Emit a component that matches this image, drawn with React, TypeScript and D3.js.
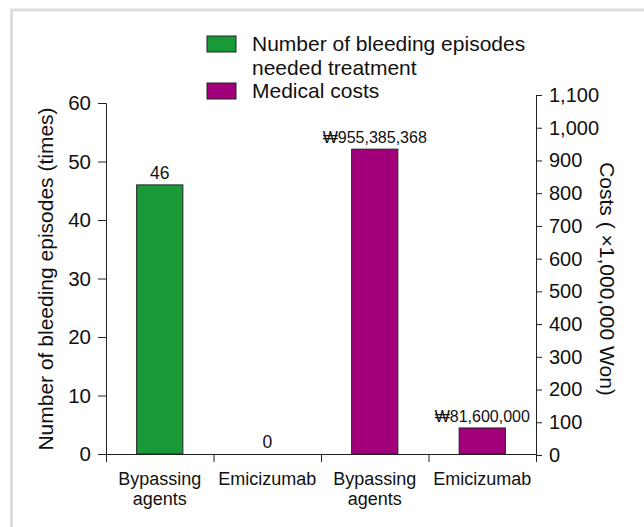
import React, { useEffect, useRef } from 'react';
import * as d3 from 'd3';

// values
const categories = ['Bypassing agents', 'Emicizumab', 'Bypassing agents', 'Emicizumab'];
const bleedingEpisodes = [46, 0]; // times
const medicalCosts = [955.385368, 81.6]; // x 1,000,000 Won
const bleedingLabels = ['46', '0'];
const costLabels = ['\u20A9955,385,368', '\u20A981,600,000'];
const leftTicks = [0, 10, 20, 30, 40, 50, 60];
const rightTicks = [0, 100, 200, 300, 400, 500, 600, 700, 800, 900, 1000, 1100];
const legendItems = [
  { lines: ['Number of bleeding episodes', 'needed treatment'], color: '#1a9a37' },
  { lines: ['Medical costs'], color: '#a2007b' },
];

const FONT = '"Liberation Sans", Arial, sans-serif';

const App = () => {
  const chartRef = useRef<SVGSVGElement>(null);

  useEffect(() => {
    drawChart();
  }, []);

  const drawChart = () => {
    const svg = d3.select(chartRef.current);
    svg.selectAll('*').remove();

    const left = 106;
    const right = 536;
    const base = 454;

    // frame (top + left only)
    svg.append('path')
      .attr('d', 'M11.5,527V10H644')
      .attr('fill', 'none')
      .attr('stroke', '#dcdcdc')
      .attr('stroke-width', 3);

    const x = d3.scaleBand<number>()
      .domain(categories.map((_, i) => i))
      .range([left, right])
      .paddingInner(0.57)
      .paddingOuter(0.285);

    const yLeft = d3.scaleLinear().domain([0, 60]).range([base, 103]);
    // cost bars sit on the same pixel span as the left axis
    const yCost = d3.scaleLinear().domain([0, 1100]).range([base, 103]);
    const yRightAxis = d3.scaleLinear().domain([0, 1100]).range([455, 95]);

    const chart = svg.append('g');

    // bars
    const bars = [
      ...bleedingEpisodes.map((v, i) => ({ idx: i, y: yLeft(v), color: legendItems[0].color, label: bleedingLabels[i], value: v })),
      ...medicalCosts.map((v, i) => ({ idx: i + 2, y: yCost(v), color: legendItems[1].color, label: costLabels[i], value: v })),
    ];

    chart.selectAll('.bar')
      .data(bars.filter(d => d.value > 0))
      .enter()
      .append('rect')
      .attr('class', 'bar')
      .attr('x', d => x(d.idx)!)
      .attr('y', d => d.y)
      .attr('width', x.bandwidth())
      .attr('height', d => base - d.y)
      .attr('fill', d => d.color)
      .attr('stroke', '#222')
      .attr('stroke-width', 1);

    chart.selectAll('.bar-label')
      .data(bars)
      .enter()
      .append('text')
      .attr('class', 'bar-label')
      .attr('x', d => x(d.idx)! + x.bandwidth() / 2)
      .attr('y', d => d.y - 6)
      .attr('text-anchor', 'middle')
      .attr('font-family', FONT)
      .attr('font-size', d => (d.idx < 2 ? 17.5 : 16))
      .attr('fill', '#111')
      .text(d => d.label);

    // x axis with ticks at band boundaries
    const xEdges = d3.scaleLinear().domain([0, categories.length]).range([left, right]);
    chart.append('g')
      .attr('transform', `translate(0,${base})`)
      .call(d3.axisBottom(xEdges).tickValues(d3.range(categories.length + 1)).tickFormat(() => '').tickSize(8))
      .call(g => g.selectAll('path,line').attr('stroke', '#222'));

    chart.selectAll('.cat')
      .data(categories)
      .enter()
      .append('text')
      .attr('class', 'cat')
      .attr('text-anchor', 'middle')
      .attr('font-family', FONT)
      .attr('font-size', 18)
      .attr('fill', '#111')
      .each(function (d, i) {
        const words = d.split(' ');
        const t = d3.select(this);
        words.forEach((w, j) => {
          t.append('tspan')
            .attr('x', x(i)! + x.bandwidth() / 2)
            .attr('y', 485 + j * 20)
            .text(w);
        });
      });

    // left axis
    chart.append('g')
      .attr('transform', `translate(${left},0)`)
      .call(d3.axisLeft(yLeft).tickValues(leftTicks).tickSize(8).tickPadding(7))
      .call(g => g.selectAll('path,line').attr('stroke', '#222'))
      .call(g => g.selectAll('text').attr('font-family', FONT).attr('font-size', 20.5).attr('fill', '#111'));

    // right axis
    chart.append('g')
      .attr('transform', `translate(${right},0)`)
      .call(d3.axisRight(yRightAxis).tickValues(rightTicks).tickFormat(d3.format(',')).tickSize(6).tickPadding(7))
      .call(g => g.selectAll('path,line').attr('stroke', '#222'))
      .call(g => g.selectAll('text').attr('font-family', FONT).attr('font-size', 20).attr('fill', '#111'));

    // axis titles
    svg.append('text')
      .attr('transform', 'translate(53,279) rotate(-90)')
      .attr('text-anchor', 'middle')
      .attr('font-family', FONT)
      .attr('font-size', 21)
      .attr('fill', '#111')
      .text('Number of bleeding episodes (times)');

    svg.append('text')
      .attr('transform', 'translate(600,279) rotate(90)')
      .attr('text-anchor', 'middle')
      .attr('font-family', FONT)
      .attr('font-size', 21)
      .attr('fill', '#111')
      .text('Costs ( \u00D71,000,000 Won)');

    // legend
    const legend = svg.append('g');
    let ly = 36;
    legendItems.forEach(item => {
      legend.append('rect')
        .attr('x', 207)
        .attr('y', ly)
        .attr('width', 29)
        .attr('height', 16)
        .attr('fill', item.color)
        .attr('stroke', '#222')
        .attr('stroke-width', 1);
      item.lines.forEach((line, j) => {
        legend.append('text')
          .attr('x', 252)
          .attr('y', ly + 15 + j * 23.5)
          .attr('font-family', FONT)
          .attr('font-size', 21)
          .attr('fill', '#111')
          .text(line);
      });
      ly += item.lines.length * 23.5;
    });
  };

  return (
    <div className="chart-container">
      <svg ref={chartRef} width={644} height={527} style={{ position: 'absolute', left: 0, top: 0, background: '#fff' }}></svg>
    </div>
  );
};

export default App;
